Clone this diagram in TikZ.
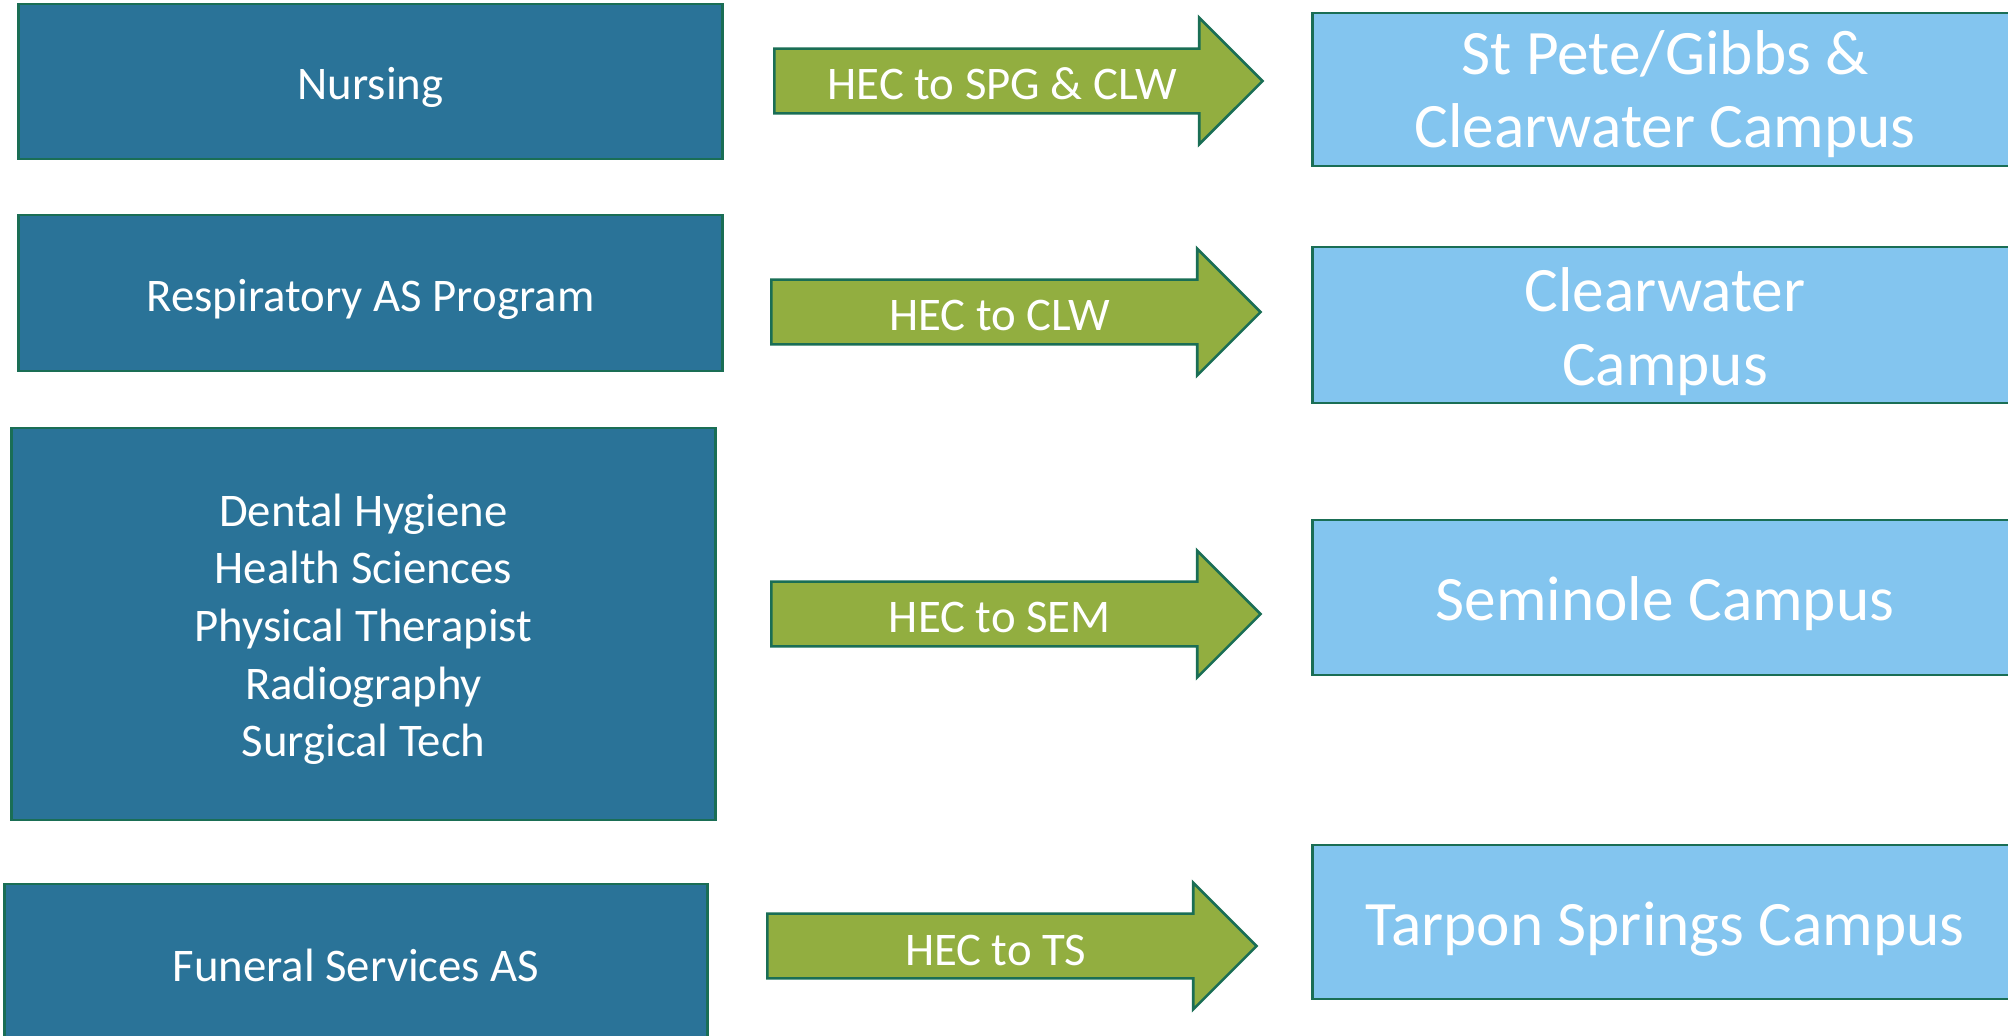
\documentclass[tikz,border=0pt]{standalone}
\usepackage{fontspec}
\setmainfont{Carlito}
\usepackage{tikz}
\usetikzlibrary{shapes.arrows}
\definecolor{progblue}{RGB}{42,115,152}
\definecolor{campusblue}{RGB}{131,197,239}
\definecolor{hecgreen}{RGB}{146,174,64}
\definecolor{edgegreen}{RGB}{26,110,85}

\begin{document}
\begin{tikzpicture} [x = 0.01cm, y = -0.01cm,
  prog/.style = {draw = edgegreen, line width = 0.75pt, fill = progblue, text = white, align = center, inner sep = 0pt, text height = 10.5pt, text depth = 0pt, font = \fontsize{13.3}{16.4}\selectfont},
  campus/.style = {draw = edgegreen, line width = 0.75pt, fill = campusblue, text = white, align = center, inner sep = 0pt, minimum width = 7.04cm, text height = 13.2pt, text depth = 0pt, font = \fontsize{18}{21}\selectfont},
  hec/.style = {single arrow, draw = edgegreen, line width = 0.75pt, fill = hecgreen, text = white, anchor = tail, single arrow head extend = 0.31cm, minimum height = 4.89cm, text height = 10.8pt, text depth = 0pt, inner ysep = 3.42pt, font = \fontsize{13.3}{16.4}\selectfont}]
\useasboundingbox (0,0) rectangle (2008,1036);
\clip (0,0) rectangle (2008,1036);
\node(nurs)[prog, minimum width = 7.03cm, minimum height = 1.55cm] at (370.5,81.5) {Nursing};
\node(resp)[prog, minimum width = 7.03cm, minimum height = 1.56cm] at (370.5,293) {Respiratory AS Program};
\node(dent)[prog, minimum width = 7.03cm, minimum height = 3.92cm, text height = 76.1pt, text depth = 0.5pt] at (363.5,624) {Dental Hygiene\\Health Sciences\\Physical Therapist\\Radiography\\Surgical Tech};
\node(fune)[prog, minimum width = 7.02cm, minimum height = 1.58cm] at (356,963) {Funeral Services AS};
\node(spg)[campus, minimum height = 1.53cm, text height = 33.2pt] at (1665,89.5) {St Pete/Gibbs \&\\Clearwater Campus};
\node(clw)[campus, minimum height = 1.56cm, text height = 34.2pt] at (1665,325) {Clearwater\\Campus};
\node(sem)[campus, minimum height = 1.55cm] at (1665,597.5) {Seminole Campus};
\node(ts)[campus, minimum height = 1.54cm] at (1665,922) {Tarpon Springs Campus};
\node(hec1)[hec, minimum height = 4.88cm] at (773,81) {HEC to SPG \& CLW};
\node(hec2)[hec] at (770,312) {HEC to CLW};
\node(hec3)[hec] at (770,614) {HEC to SEM};
\node(hec4)[hec] at (766,946) {HEC to TS};
\end{tikzpicture}
\end{document}
